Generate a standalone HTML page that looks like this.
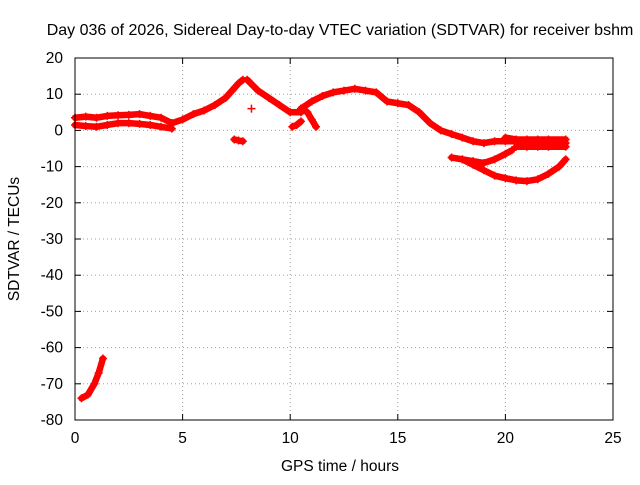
<!DOCTYPE html>
<html><head><meta charset="utf-8"><style>
body{margin:0;background:#fff;width:640px;height:480px;overflow:hidden}
svg text{font-family:"Liberation Sans",sans-serif;font-size:15.5px;fill:#000}
</style></head><body>
<svg id="c" width="640" height="480" xmlns="http://www.w3.org/2000/svg"></svg>
<script>
const xTicks=[0,5,10,15,20,25];
const yTicks=[20,10,0,-10,-20,-30,-40,-50,-60,-70,-80];
const trackBandUpperT=[0,0.5,1,1.5,2,2.5,3,3.5,4,4.5];
const trackBandUpperV=[3.5,3.8,3.5,4,4.2,4.3,4.5,4,3.5,2];
const trackBandLowerT=[0,0.5,1,1.5,2,2.5,3,3.5,4,4.5];
const trackBandLowerV=[1.5,1.2,1,1.5,2,2,1.8,1.5,1,0.5];
const trackRiseT=[4.5,5,5.5,6,6.5,7,7.3,7.6,7.8];
const trackRiseV=[2,3,4.5,5.5,7,9,11,13,14];
const trackFallT=[8,8.5,9,9.5,10,10.5];
const trackFallV=[14,11,9,7,5,5];
const trackDipT=[7.4,7.6,7.8];
const trackDipV=[-2.5,-2.8,-3];
const trackShortT=[10.5,10.8,11,11.2];
const trackShortV=[6,5,3,1];
const trackShort2T=[10.1,10.3,10.5];
const trackShort2V=[1,1.5,2.5];
const trackMainT=[10.5,11,11.5,12,12.5,13,13.5,14,14.5,15,15.5,16,16.5,17,17.5,18,18.5,19,19.5,20,20.5,21,21.5,22,22.8];
const trackMainV=[6,8,9.5,10.5,11,11.5,11,10.5,8,7.5,7,5,2,0,-1,-2,-3,-3.5,-3,-3,-3,-3.5,-3.5,-3.5,-3.5];
const trackMain2T=[20,20.5,21,21.5,22,22.8];
const trackMain2V=[-2,-2.5,-2.5,-2.5,-2.5,-2.5];
const trackMain3T=[20.5,21,21.5,22,22.8];
const trackMain3V=[-4.5,-4.5,-4.5,-4.5,-4.5];
const trackMidT=[17.5,18,18.5,19,19.5,20,20.3];
const trackMidV=[-7.5,-8,-8.5,-9,-8,-6.5,-5.5];
const trackLowT=[18,18.5,19,19.5,20,20.5,21,21.5,22,22.5,22.8];
const trackLowV=[-8,-9.5,-11,-12.5,-13.2,-13.8,-14,-13.5,-12,-10,-8];
const trackDeepT=[0.3,0.6,0.9,1.1,1.3];
const trackDeepV=[-74,-73,-70,-67,-63];
const isoT=[8.2];
const isoV=[6];

const X0=75,X1=613,Y0=58,Y1=420;
const sx=t=>X0+(t-0)/25*(X1-X0);
const sy=v=>Y0+(20-v)/100*(Y1-Y0);
const svg=document.getElementById('c');const NS='http://www.w3.org/2000/svg';
function mk(tag,attrs,parent){const e=document.createElementNS(NS,tag);for(const k in attrs)e.setAttribute(k,attrs[k]);(parent||svg).appendChild(e);return e;}
xTicks.forEach(t=>{if(t>0&&t<25){const g=mk('line',{x1:sx(t),x2:sx(t),y1:Y0,y2:Y1,stroke:'#a0a0a0','stroke-dasharray':'1,3'});

}});
yTicks.forEach(v=>{if(v<20&&v>-80){const g=mk('line',{x1:X0,x2:X1,y1:sy(v),y2:sy(v),stroke:'#a0a0a0','stroke-dasharray':'1,3'});

}});
xTicks.forEach(t=>{mk('line',{x1:sx(t),x2:sx(t),y1:Y1,y2:Y1-6,stroke:'#000'});mk('line',{x1:sx(t),x2:sx(t),y1:Y0,y2:Y0+6,stroke:'#000'});
const l=mk('text',{x:sx(t),y:Y1+23,'text-anchor':'middle'});l.textContent=t;

});
yTicks.forEach(v=>{mk('line',{x1:X0,x2:X0+6,y1:sy(v),y2:sy(v),stroke:'#000'});mk('line',{x1:X1,x2:X1-6,y1:sy(v),y2:sy(v),stroke:'#000'});
const l=mk('text',{x:X0-12,y:sy(v)+5,'text-anchor':'end'});l.textContent=v;

});
const tracks=[[trackBandUpperT,trackBandUpperV],[trackBandLowerT,trackBandLowerV],[trackRiseT,trackRiseV],[trackFallT,trackFallV],[trackDipT,trackDipV],[trackShortT,trackShortV],[trackShort2T,trackShort2V],[trackMainT,trackMainV],[trackMain2T,trackMain2V],[trackMain3T,trackMain3V],[trackMidT,trackMidV],[trackLowT,trackLowV],[trackDeepT,trackDeepV],[isoT,isoV]];
const gS=mk('g',{});


tracks.forEach(([T,V])=>{
 if(T.length>1){const p=mk('polyline',{points:T.map((t,i)=>sx(t)+','+sy(V[i])).join(' '),fill:'none',stroke:'#f00','stroke-width':6.5,'stroke-linejoin':'round','stroke-linecap':'round'},gS);
 
 }
 T.forEach((t,i)=>{const x=sx(t),y=sy(V[i]);const m=mk('path',{d:`M${x-4},${y}H${x+4}M${x},${y-4}V${y+4}`,stroke:'#f00','stroke-width':1.5},gS);
 
 });
});
const f=mk('rect',{x:X0,y:Y0,width:X1-X0,height:Y1-Y0,fill:'none',stroke:'#000'});


</script>
<svg width="640" height="480" style="position:absolute;left:0;top:0" xmlns="http://www.w3.org/2000/svg">
<text x="340" y="35" text-anchor="middle" style="font-size:16px">Day 036 of 2026, Sidereal Day-to-day VTEC variation (SDTVAR) for receiver bshm</text>
<text x="340" y="471" text-anchor="middle">GPS time / hours</text>
<text x="0" y="0" transform="translate(19,239) rotate(-90)" text-anchor="middle">SDTVAR / TECUs</text>
</svg>
</body></html>
